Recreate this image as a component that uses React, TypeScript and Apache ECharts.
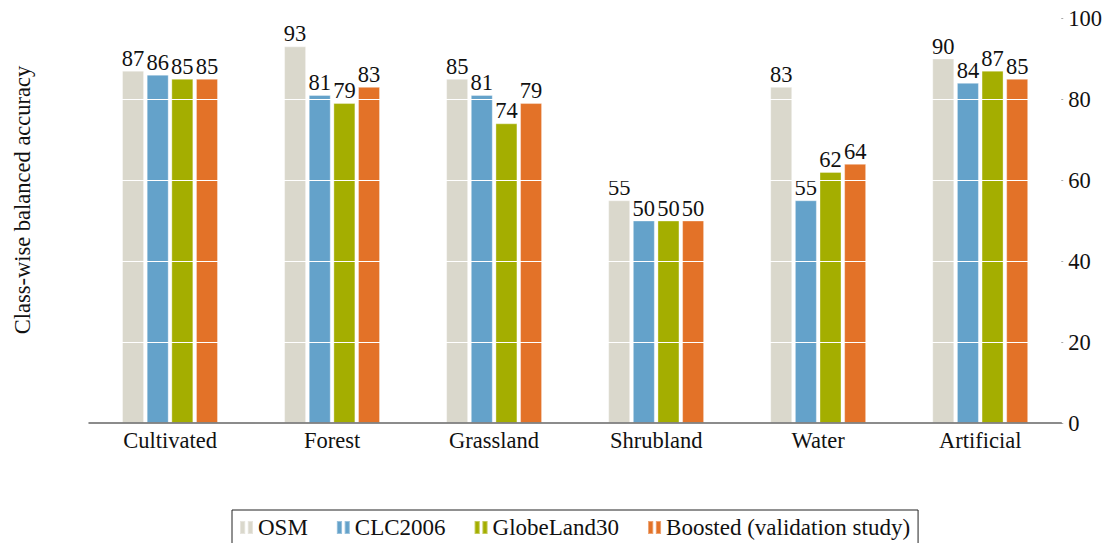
import React, { useEffect, useRef } from "react";
import * as echarts from "echarts";

const categories = ["Cultivated", "Forest", "Grassland", "Shrubland", "Water", "Artificial"];
const seriesNames = ["OSM", "CLC2006", "GlobeLand30", "Boosted (validation study)"];
const osm = [87, 93, 85, 55, 83, 90];
const clc = [86, 81, 81, 50, 55, 84];
const globe = [85, 79, 74, 50, 62, 87];
const boosted = [85, 83, 79, 50, 64, 85];
const yTicks = { min: 0, max: 100, interval: 20 };
const colors = ["#dad8cc", "#64a2ca", "#a4ae00", "#e37228"];

const FONT = "Liberation Serif";
const FS = 22.5;

export default function App() {
  const ref = useRef<HTMLDivElement>(null);
  useEffect(() => {
    if (!ref.current) return;
    const chart = echarts.init(ref.current, null, { renderer: "svg" });
    const data = [osm, clc, globe, boosted];
    chart.setOption({
      animation: false,
      textStyle: { fontFamily: FONT },
      grid: { left: 89, right: 42, top: 18, bottom: 120 },
      legend: {
        left: 232,
        top: 510,
        data: seriesNames,
        icon: "path://M0,0h4v10h-4z M6,0h4v10h-4z",
        itemWidth: 13,
        itemHeight: 15,
        itemGap: 28,
        borderColor: "#222",
        borderWidth: 1,
        borderRadius: 0,
        padding: [6, 8, 10, 7],
        textStyle: { fontFamily: FONT, fontSize: 23, color: "#111" },
      },
      xAxis: {
        type: "category",
        data: categories,
        z: 6,
        axisLine: { lineStyle: { color: "#666", width: 1.5 } },
        axisTick: { show: false },
        axisLabel: { fontFamily: FONT, fontSize: FS, color: "#111", margin: 6 },
      },
      yAxis: {
        type: "value",
        position: "right",
        min: yTicks.min,
        max: yTicks.max,
        interval: yTicks.interval,
        z: 5,
        axisLine: { show: false },
        axisTick: { show: true, length: 2, lineStyle: { color: "#aaa" } },
        axisLabel: { fontFamily: FONT, fontSize: FS, color: "#111", margin: 7 },
        splitLine: { show: true, lineStyle: { color: "#ffffff", width: 1 } },
      },
      graphic: [
        {
          type: "text",
          x: 22,
          y: 200,
          rotation: Math.PI / 2,
          style: {
            text: "Class-wise balanced accuracy",
            fontFamily: FONT,
            fontSize: FS,
            fill: "#111",
            align: "center",
            verticalAlign: "middle",
          },
        },
      ],
      series: seriesNames.map((name, i) => ({
        name,
        type: "bar",
        data: data[i],
        barWidth: 22,
        barGap: "12%",
        itemStyle: { color: colors[i], borderColor: "rgba(255,255,255,0.35)", borderWidth: 1 },
        label: {
          show: true,
          position: "top",
          distance: 1,
          fontFamily: FONT,
          fontSize: FS,
          color: "#111",
        },
      })),
    });
    return () => chart.dispose();
  }, []);
  return (
    <div
      ref={ref}
      style={{ position: "fixed", left: 0, top: 0, width: 1105, height: 543, background: "#fff" }}
    />
  );
}
